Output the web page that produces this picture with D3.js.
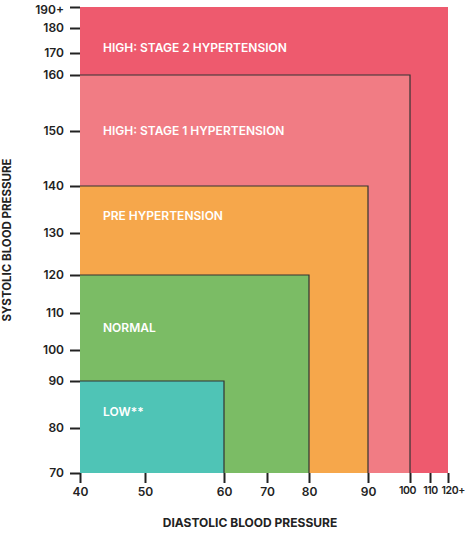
<!DOCTYPE html>
<html><head><meta charset="utf-8">
<script src="https://cdn.jsdelivr.net/npm/d3@7"></script>
<style>body{margin:0;background:#fff}text{font-family:Inter,"Open Sans",sans-serif}</style>
</head><body>
<svg id="chart" width="474" height="536"></svg>
<script>
// systolic / diastolic tick values and labels (axis is not linear)
const yTicks = [70, 80, 90, 100, 110, 120, 130, 140, 150, 160, 170, 180, 190];
const yLabels = ["70","80","90","100","110","120","130","140","150","160","170","180","190+"];
const xTicks = [40, 50, 60, 70, 80, 90, 100, 110, 120];
const xLabels = ["40","50","60","70","80","90","100","110","120+"];

// zones: upper bound of diastolic and systolic
const zones = ["HIGH: STAGE 2 HYPERTENSION", "HIGH: STAGE 1 HYPERTENSION", "PRE HYPERTENSION", "NORMAL", "LOW**"];
const zoneDia = [120, 100, 90, 80, 60];
const zoneSys = [190, 160, 140, 120, 90];
const zoneLabelSys = [172, 150, 133.6, 106, 83.4];
const zoneColors = ["#ee5a6e", "#f17c84", "#f6a74b", "#7bbc65", "#4fc4b6"];

const y = d3.scaleLinear().domain(yTicks)
  .range([473, 428, 381, 350, 313, 275, 233, 186, 131, 75, 53, 28, 7]);
const x = d3.scaleLinear().domain(xTicks)
  .range([80, 145, 224, 267, 309, 368, 410, 430, 448]);

const svg = d3.select("#chart");

svg.selectAll("rect.zone").data(zones).enter().append("rect")
  .attr("class", "zone")
  .attr("x", x(40))
  .attr("y", (d, i) => y(zoneSys[i]))
  .attr("width", (d, i) => x(zoneDia[i]) - x(40))
  .attr("height", (d, i) => y(70) - y(zoneSys[i]))
  .attr("fill", (d, i) => zoneColors[i]);

// dark edges on inner boxes
svg.selectAll("path.edge").data(zones.slice(1)).enter().append("path")
  .attr("fill", "none").attr("stroke", "#333").attr("stroke-width", 1.2)
  .attr("d", (d, i) => "M" + x(40) + " " + y(zoneSys[i + 1]) + " H" + x(zoneDia[i + 1]) + " V" + y(70));

svg.selectAll("text.zone").data(zones).enter().append("text")
  .attr("x", 103)
  .attr("y", (d, i) => y(zoneLabelSys[i]))
  .attr("dy", "0.35em")
  .attr("fill", "#fff").attr("font-size", 12).attr("font-weight", 600)
  .text(d => d);

const yAxis = d3.axisLeft(y).tickValues(yTicks).tickFormat((d, i) => yLabels[i]).tickSize(10).tickPadding(6);
const gy = svg.append("g").attr("transform", "translate(80,0)").call(yAxis);
const xAxis = d3.axisBottom(x).tickValues(xTicks).tickFormat((d, i) => xLabels[i]).tickSize(10).tickPadding(4);
const gx = svg.append("g").attr("transform", "translate(0,473)").call(xAxis);
[gy, gx].forEach(g => {
  g.select(".domain").remove();
  g.selectAll("line").attr("stroke", "#222").attr("stroke-width", 2);
  g.selectAll("text").attr("fill", "#222").attr("font-size", 12).attr("font-weight", 600).style("font-family", "Inter, 'Open Sans', sans-serif");
});
// tight labels at the right end of the x axis
gx.selectAll("text").filter(d => d >= 100).attr("font-size", 10.5).attr("letter-spacing", -0.4);
gx.selectAll("text").filter(d => d === 120).attr("text-anchor", "start").attr("x", -7);
gx.selectAll("text").filter(d => d === 100).attr("x", -3);
gy.selectAll("text").filter(d => d === 190).attr("dy", "0.5em");

svg.append("text").attr("x", 250).attr("y", 527).attr("text-anchor", "middle")
  .attr("font-size", 12).attr("font-weight", 700).attr("fill", "#222").text("DIASTOLIC BLOOD PRESSURE");
svg.append("text").attr("transform", "translate(11,240) rotate(-90)").attr("text-anchor", "middle")
  .attr("font-size", 11.5).attr("font-weight", 700).attr("fill", "#222").text("SYSTOLIC BLOOD PRESSURE");
</script>
</body></html>
